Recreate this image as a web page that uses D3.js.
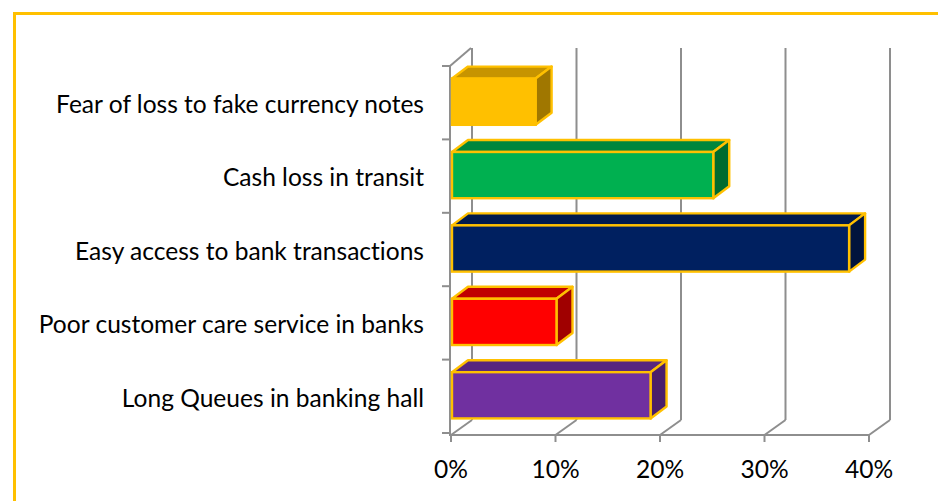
<!DOCTYPE html>
<html>
<head>
<meta charset="utf-8">
<script src="https://cdnjs.cloudflare.com/ajax/libs/d3/7.8.5/d3.min.js"></script>
<style>
  html, body { margin: 0; padding: 0; background: #fff; }
  svg { display: block; }
  text { font-variant-ligatures: none; font-feature-settings: "liga" 0; }
</style>
</head>
<body>
<svg id="chart" width="938" height="501"></svg>
<script>
// Categories, top to bottom
const categories = [
  "Fear of loss to fake currency notes",
  "Cash loss in transit",
  "Easy access to bank transactions",
  "Poor customer care service in banks",
  "Long Queues in banking hall"
];
// Share of respondents (%)
const values = [8, 25, 38, 10, 19];
// Front / top / side shades of each bar
const frontColors = ["#FFC000", "#00B050", "#002060", "#FF0000", "#7030A0"];
const topColors   = ["#C79400", "#00863D", "#001A4E", "#C00000", "#58267F"];
const sideColors  = ["#A07700", "#006B2F", "#00143D", "#A00000", "#4A1F6B"];
const tickValues = [0, 10, 20, 30, 40];
const tickLabels = ["0%", "10%", "20%", "30%", "40%"];

const svg = d3.select("#chart");
const grid = "#8E8E8E";
const gold = "#FFC000";

// outer frame
svg.append("path")
  .attr("d", "M14.5,510 L14.5,13.5 L945,13.5")
  .attr("fill", "none").attr("stroke", gold).attr("stroke-width", 3);

// front plane geometry
const x = d3.scaleLinear().domain([0, 40]).range([451, 869]);
const y = d3.scaleBand().domain(categories).range([66, 433]).paddingInner(0.37).paddingOuter(0.185);
const floorY = 435;
const wallDx = 21, wallDy = -15;  // depth offset of back wall
const backTop = 48;

const g = svg.append("g");

// back wall vertical gridlines and floor diagonals
tickValues.forEach(v => {
  const fx = x(v);
  g.append("line").attr("x1", fx + wallDx).attr("x2", fx + wallDx)
    .attr("y1", floorY + wallDy).attr("y2", backTop)
    .attr("stroke", grid).attr("stroke-width", 2);
  g.append("line").attr("x1", fx).attr("y1", floorY)
    .attr("x2", fx + wallDx).attr("y2", floorY + wallDy)
    .attr("stroke", grid).attr("stroke-width", 2);
});

// left wall: front edge and top diagonal
g.append("line").attr("x1", 450).attr("x2", 450).attr("y1", 66).attr("y2", floorY)
  .attr("stroke", grid).attr("stroke-width", 2);
g.append("line").attr("x1", 450).attr("y1", 66).attr("x2", 450 + wallDx).attr("y2", backTop)
  .attr("stroke", grid).attr("stroke-width", 2);

// floor front edge
g.append("line").attr("x1", 449).attr("x2", x(40)).attr("y1", floorY).attr("y2", floorY)
  .attr("stroke", grid).attr("stroke-width", 2);

// category ticks
const catTicks = categories.map(c => y(c) - y.step() * y.paddingInner() / 2).concat([433]);
catTicks.forEach(t => {
  g.append("line").attr("x1", 442).attr("x2", 450).attr("y1", t).attr("y2", t)
    .attr("stroke", grid).attr("stroke-width", 2);
});

// value ticks + labels
tickValues.forEach((v, i) => {
  g.append("line").attr("x1", x(v)).attr("x2", x(v)).attr("y1", floorY).attr("y2", floorY + 7)
    .attr("stroke", grid).attr("stroke-width", 2);
  g.append("text").attr("x", x(v)).attr("y", 478)
    .attr("text-anchor", "middle")
    .attr("font-family", "Lato, 'Open Sans', sans-serif")
    .attr("font-size", 20).attr("fill", "#000")
    .text(tickLabels[i]);
});

// category labels, sized so the longest fits its slot
const labels = g.selectAll("text.cat").data(categories).enter().append("text")
  .attr("class", "cat")
  .attr("x", 424)
  .attr("y", d => y(d) + y.bandwidth() / 2 + 4)
  .attr("text-anchor", "end")
  .attr("dominant-baseline", "middle")
  .attr("font-family", "Lato, 'Open Sans', sans-serif")
  .attr("font-size", 20).attr("fill", "#000")
  .text(d => d);
const w0 = labels.nodes()[0].getComputedTextLength();
const fs = 20 * 368 / w0;
labels.attr("font-size", fs);
g.selectAll("text").filter(function(){ return !this.classList.contains("cat"); }).attr("font-size", fs);

// 3D bars
const bDx = 1, bDy = -1;   // bar front offset behind front plane
const dDx = 16, dDy = -12; // bar depth
const bars = g.selectAll("g.bar").data(categories).enter().append("g").attr("class", "bar");
bars.each(function(c, i) {
  const sel = d3.select(this);
  const x0 = x(0) + bDx, x1 = x(values[i]) + bDx;
  const y0 = y(c) + bDy, y1 = y(c) + y.bandwidth() + bDy;
  const pts = a => a.map(p => p.join(",")).join(" ");
  sel.append("polygon")
    .attr("points", pts([[x0, y0], [x1, y0], [x1 + dDx, y0 + dDy], [x0 + dDx, y0 + dDy]]))
    .attr("fill", topColors[i]).attr("stroke", gold).attr("stroke-width", 2.4).attr("stroke-linejoin", "round");
  sel.append("polygon")
    .attr("points", pts([[x1, y0], [x1 + dDx, y0 + dDy], [x1 + dDx, y1 + dDy], [x1, y1]]))
    .attr("fill", sideColors[i]).attr("stroke", gold).attr("stroke-width", 2.4).attr("stroke-linejoin", "round");
  sel.append("rect")
    .attr("x", x0).attr("y", y0).attr("width", x1 - x0).attr("height", y1 - y0)
    .attr("fill", frontColors[i]).attr("stroke", gold).attr("stroke-width", 2.4);
});
</script>
</body>
</html>
